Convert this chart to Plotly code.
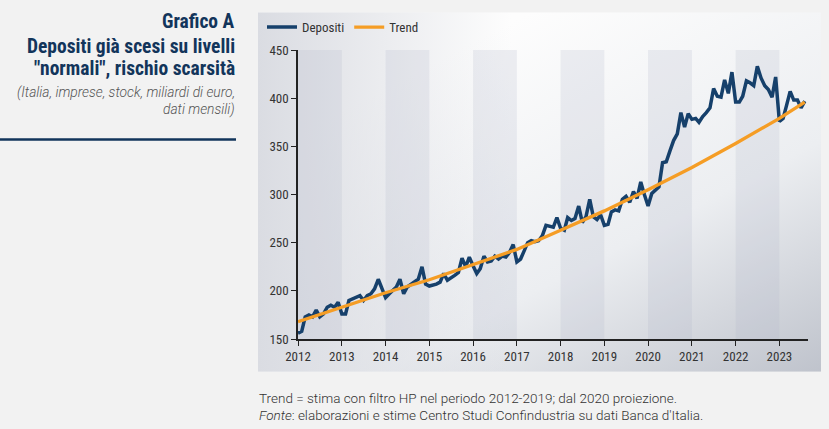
import base64
import pandas as pd
import plotly.graph_objects as go

# ---------------- data ----------------
depositi = [
    156, 158, 173, 175, 173, 180, 173, 176, 183, 185, 183, 188,   # 2012
    176, 176, 190, 192, 194, 195, 190, 195, 197, 202, 212, 203,   # 2013
    193, 197, 200, 204, 212, 197, 204, 207, 209, 212, 225, 207,   # 2014
    205, 206, 207, 209, 218, 211, 214, 216, 219, 234, 225, 235,   # 2015
    226, 218, 223, 236, 230, 231, 236, 233, 236, 235, 240, 248,   # 2016
    230, 233, 241, 250, 252, 251, 252, 257, 268, 267, 266, 276,   # 2017
    265, 263, 276, 273, 275, 288, 271, 277, 295, 277, 274, 279,   # 2018
    268, 269, 282, 284, 283, 295, 298, 292, 303, 296, 313, 300,   # 2019
    288, 301, 304, 308, 333, 334, 345, 356, 363, 385, 370, 384,   # 2020
    378, 379, 375, 381, 385, 390, 410, 402, 401, 419, 405, 427,   # 2021
    396, 396, 402, 418, 416, 413, 433, 421, 413, 409, 401, 422,   # 2022
    376, 379, 392, 407, 398, 398, 390, 397,                       # 2023 (Jan-Aug)
]
months = pd.date_range("2012-01-01", periods=len(depositi), freq="MS")

trend_dates = ["2012-01-01", "2013-01-01", "2014-01-01", "2015-01-01", "2016-01-01",
               "2017-01-01", "2018-01-01", "2019-01-01", "2020-01-01", "2021-01-01",
               "2022-01-01", "2023-01-01", "2023-08-01"]
trend_values = [168, 183, 198, 211.5, 227, 243, 263, 283, 305, 328, 353, 379, 396]

shaded_years = [2012, 2014, 2016, 2018, 2020, 2022]
y_ticks = [150, 200, 250, 300, 350, 400, 450]

# ---------------- layout helpers ----------------
W, H = 829, 429
PL, PR, PT, PB = 298, 808, 48, 339   # plot area in pixels


def px2x(px):
    return (px - PL) / (PR - PL)


def py2y(py):
    return (PB - py) / (PB - PT)


NAVY = "#16406b"
ORANGE = "#f59d25"
TITLE = "#12355b"
COND = "Roboto Condensed, Liberation Sans Narrow, Arial Narrow, sans-serif"
BODY = "Roboto, Noto Sans, sans-serif"

# gradient panel background (SVG data URI)
svg = (
    '<svg xmlns="http://www.w3.org/2000/svg" width="563" height="362" '
    'viewBox="0 0 563 362" preserveAspectRatio="none">'
    '<defs>'
    '<linearGradient id="g1" x1="0.3" y1="0.15" x2="1" y2="1">'
    '<stop offset="0" stop-color="#fdfdfd"/><stop offset="0.55" stop-color="#eceef1"/>'
    '<stop offset="1" stop-color="#bfc3cc"/></linearGradient>'
    '<linearGradient id="g2" x1="0" y1="0" x2="1" y2="0">'
    '<stop offset="0" stop-color="#dadce2" stop-opacity="1"/>'
    '<stop offset="0.45" stop-color="#dadce2" stop-opacity="0"/></linearGradient>'
    '</defs>'
    '<rect width="563" height="362" fill="url(#g1)"/>'
    '<rect width="563" height="362" fill="url(#g2)"/>'
    '</svg>'
)
svg_uri = "data:image/svg+xml;base64," + base64.b64encode(svg.encode()).decode()

fig = go.Figure()

fig.add_trace(go.Scatter(
    x=months, y=depositi, mode="lines", name="Depositi",
    line=dict(color=NAVY, width=3.5),
))
fig.add_trace(go.Scatter(
    x=trend_dates, y=trend_values, mode="lines", name="Trend",
    line=dict(color=ORANGE, width=3.3),
))

shapes = []
for y in shaded_years:
    shapes.append(dict(
        type="rect", xref="x", yref="y", layer="below",
        x0=f"{y}-01-01", x1=f"{y + 1}-01-01", y0=150, y1=450,
        fillcolor="rgba(175,182,200,0.20)", line=dict(width=0),
    ))
# separator line under title block
shapes.append(dict(
    type="line", xref="paper", yref="paper",
    x0=px2x(0), x1=px2x(236), y0=py2y(138), y1=py2y(138),
    line=dict(color=TITLE, width=2.5),
))

annotations = []
title_lines = [
    ("<b>Grafico A</b>", 19),
    ("<b>Depositi già scesi su livelli</b>", 44),
    ("<b>\"normali\", rischio scarsità</b>", 67),
]
for txt, py in title_lines:
    annotations.append(dict(
        text=txt, xref="paper", yref="paper", x=px2x(237), y=py2y(py),
        xanchor="right", yanchor="middle", showarrow=False,
        font=dict(family=COND, size=19.5, color=TITLE),
    ))
sub_lines = [("<i>(Italia, imprese, stock, miliardi di euro,</i>", 91),
             ("<i>dati mensili)</i>", 108)]
for txt, py in sub_lines:
    annotations.append(dict(
        text=txt, xref="paper", yref="paper", x=px2x(237), y=py2y(py),
        xanchor="right", yanchor="middle", showarrow=False,
        font=dict(family=BODY, size=13.8, color="#555555", weight=300),
    ))
foot_lines = [
    ("Trend = stima con filtro HP nel periodo 2012-2019; dal 2020 proiezione.", 398),
    ("<i>Fonte</i>: elaborazioni e stime Centro Studi Confindustria su dati Banca d'Italia.", 416),
]
for txt, py in foot_lines:
    annotations.append(dict(
        text=txt, xref="paper", yref="paper", x=px2x(257), y=py2y(py),
        xanchor="left", yanchor="middle", showarrow=False,
        font=dict(family=BODY, size=13.5, color="#333333", weight=300),
    ))

fig.update_layout(
    width=W, height=H,
    margin=dict(l=PL, r=W - PR, t=PT, b=H - PB, pad=0),
    paper_bgcolor="#f2f2f2",
    plot_bgcolor="rgba(0,0,0,0)",
    images=[dict(
        source=svg_uri, xref="paper", yref="paper",
        x=px2x(258), y=py2y(10), sizex=563 / (PR - PL), sizey=362 / (PB - PT),
        xanchor="left", yanchor="top", sizing="stretch", layer="below",
    )],
    shapes=shapes,
    annotations=annotations,
    showlegend=True,
    hovermode=False,
    legend=dict(
        orientation="h", x=px2x(262), y=py2y(25), xanchor="left", yanchor="middle",
        font=dict(family=COND, size=13, color="#333333"),
        bgcolor="rgba(0,0,0,0)", itemwidth=30, tracegroupgap=0,
    ),
    xaxis=dict(
        type="date", range=["2012-01-01", "2023-08-28"],
        tick0="2012-01-01", dtick="M12", tickformat="%Y",
        showgrid=False, zeroline=False,
        showline=True, linecolor="#222222", linewidth=1.5,
        ticks="outside", ticklen=5, tickcolor="#222222", tickwidth=1.2,
        tickfont=dict(family=COND, size=13, color="#333333"),
    ),
    yaxis=dict(
        range=[150, 450], tickvals=y_ticks,
        showgrid=False, zeroline=False,
        showline=True, linecolor="#222222", linewidth=1.5,
        ticks="outside", ticklen=5, tickcolor="#222222", tickwidth=1.2,
        tickfont=dict(family=COND, size=13, color="#333333"),
    ),
)

fig.write_html(
    "out.html",
    config={"displayModeBar": False},
    post_script="document.body.style.margin='0';document.body.style.background='#f2f2f2';",
)
